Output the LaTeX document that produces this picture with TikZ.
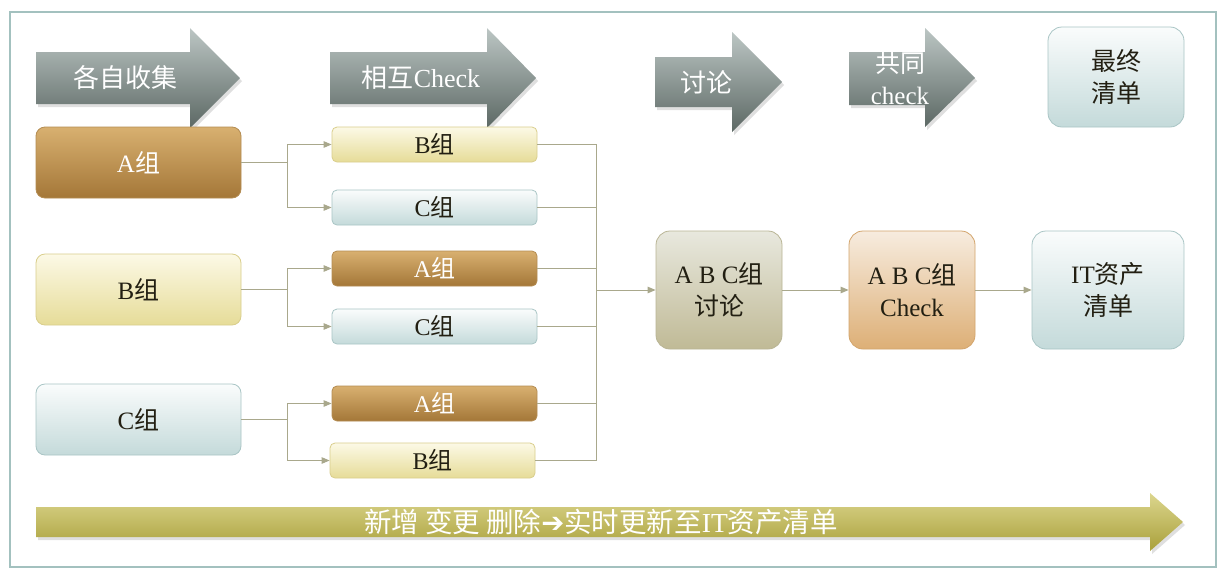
\documentclass[tikz,border=0pt]{standalone}
\usepackage{fontspec}
\setmainfont{Liberation Serif}
\newfontfamily\cjk{Noto Sans CJK SC}
\newfontfamily\symf{DejaVu Sans}
\usetikzlibrary{arrows.meta,shadows}
\newcommand\zh[1]{{\cjk #1}}
\definecolor{frameC}{HTML}{A3C1BF}
\definecolor{lineC}{HTML}{A9A88C}
\definecolor{brT}{HTML}{D8B070}
\definecolor{brB}{HTML}{A47738}
\definecolor{brD}{HTML}{B48C52}
\definecolor{yeT}{HTML}{FCF9E6}
\definecolor{yeB}{HTML}{E6DC98}
\definecolor{yeD}{HTML}{D9CE8C}
\definecolor{blT}{HTML}{FAFCFC}
\definecolor{blB}{HTML}{C4DADA}
\definecolor{blD}{HTML}{A9C5C5}
\definecolor{gdT}{HTML}{E8E8DE}
\definecolor{gdB}{HTML}{C0BA96}
\definecolor{gdD}{HTML}{B9B595}
\definecolor{orT}{HTML}{F7ECDF}
\definecolor{orB}{HTML}{DDAF76}
\definecolor{orD}{HTML}{D3A56C}
\definecolor{grT}{HTML}{BCC6C4}
\definecolor{grB}{HTML}{5C6864}
\definecolor{olT}{HTML}{DCD68E}
\definecolor{olB}{HTML}{A9A03A}
\definecolor{txt}{HTML}{221F12}
\tikzset{
  conn/.style={draw=lineC, line width=1pt},
  arr/.style={conn, -{Triangle[length=8pt,width=6.5pt]}},
  box/.style={draw, line width=0.8pt, align=center, text=txt, inner sep=2pt},
  bigbox/.style={box, rounded corners=9pt, minimum width=205pt, minimum height=71pt, font=\fontsize{25}{29}\selectfont},
  smallbox/.style={box, rounded corners=5pt, minimum width=205pt, minimum height=35pt, font=\fontsize{24}{28}\selectfont},
  tallbox/.style={box, rounded corners=14pt, minimum width=126pt, minimum height=118pt, font=\fontsize{25}{32}\selectfont},
  brownf/.style={top color=brT, bottom color=brB, draw=brD, text=white},
  yellowf/.style={top color=yeT, bottom color=yeB, draw=yeD},
  bluef/.style={top color=blT, bottom color=blB, draw=blD},
  greyarrow/.style={top color=grT, bottom color=grB, draw=none,
     drop shadow={shadow xshift=2pt, shadow yshift=-3pt, opacity=0.25}},
  arrowlabel/.style={text=white, font=\fontsize{26}{31}\selectfont, align=center, inner sep=0pt},
}
\begin{document}
\begin{tikzpicture}[x=1pt,y=-1pt]
\useasboundingbox (0,0) rectangle (1232,574);
\fill[white] (0,0) rectangle (1232,574);
\draw[frameC, line width=1.6pt] (10,12) rectangle (1216,567);

% header arrows
\path[greyarrow] (36,52) -- (190,52) -- (190,28) -- (240,78) -- (190,128) -- (190,104) -- (36,104) -- cycle;
\node[arrowlabel] (h1) at (125,78) {\zh{各自收集}};
\path[greyarrow] (330,52) -- (487,52) -- (487,28) -- (536,78) -- (487,128) -- (487,104) -- (330,104) -- cycle;
\node[arrowlabel] (h2) at (421,78) {\zh{相互}Check};
\path[greyarrow] (655,57) -- (732,57) -- (732,32) -- (782,82) -- (732,132) -- (732,107) -- (655,107) -- cycle;
\node[arrowlabel] (h3) at (706,82) {\zh{讨论}};
\path[greyarrow] (849,52) -- (925,52) -- (925,28) -- (975,78) -- (925,127) -- (925,105) -- (849,105) -- cycle;
\node[arrowlabel, font=\fontsize{25}{32}\selectfont] (h4) at (900,78) {\zh{共同}\\check};

\node[box, bluef, rounded corners=14pt, minimum width=136pt, minimum height=100pt, font=\fontsize{25}{32}\selectfont] (final) at (1116,77) {\zh{最终}\\\zh{清单}};

% left column
\node[bigbox, brownf] (A) at (138.5,162.5) {A\zh{组}};
\node[bigbox, yellowf] (B) at (138.5,289.5) {B\zh{组}};
\node[bigbox, bluef] (C) at (138.5,419.5) {C\zh{组}};

% middle column
\node[smallbox, yellowf] (AB) at (434.5,144.5) {B\zh{组}};
\node[smallbox, bluef] (AC) at (434.5,207.5) {C\zh{组}};
\node[smallbox, brownf] (BA) at (434.5,268.5) {A\zh{组}};
\node[smallbox, bluef] (BC) at (434.5,326.5) {C\zh{组}};
\node[smallbox, brownf] (CA) at (434.5,403.5) {A\zh{组}};
\node[smallbox, yellowf] (CB) at (432.5,460.5) {B\zh{组}};

% right side
\node[tallbox, top color=gdT, bottom color=gdB, draw=gdD] (D) at (719,290) {A B C\zh{组}\\\zh{讨论}};
\node[tallbox, top color=orT, bottom color=orB, draw=orD] (K) at (912,290) {A B C\zh{组}\\Check};
\node[tallbox, bluef, minimum width=152pt] (IT) at (1108,290) {IT\zh{资产}\\\zh{清单}};

% connectors left -> middle
\draw[arr] (A.east) -- (287,162.5) |- (AB.west);
\draw[arr] (A.east) -- (287,162.5) |- (AC.west);
\draw[arr] (B.east) -- (287,289.5) |- (BA.west);
\draw[arr] (B.east) -- (287,289.5) |- (BC.west);
\draw[arr] (C.east) -- (287,419.5) |- (CA.west);
\draw[arr] (C.east) -- (287,419.5) |- (CB.west);

% middle -> bus
\coordinate (bus) at (596,290);
\draw[conn] (AB.east) -| (bus);
\draw[conn] (AC.east) -| (bus);
\draw[conn] (BA.east) -| (bus);
\draw[conn] (BC.east) -| (bus);
\draw[conn] (CA.east) -| (bus);
\draw[conn] (CB.east) -| (bus);
\draw[arr] (bus) -- (D.west);
\draw[arr] (D.east) -- (K.west);
\draw[arr] (K.east) -- (IT.west);

% bottom arrow
\path[top color=olT, bottom color=olB, draw=none,
  drop shadow={shadow xshift=2pt, shadow yshift=-3pt, opacity=0.25}]
  (36,507) -- (1150,507) -- (1150,493) -- (1183,522) -- (1150,551) -- (1150,537) -- (36,537) -- cycle;
\node[arrowlabel, font=\fontsize{27.5}{30}\selectfont] (bot) at (601,522) {\zh{新增 变更 删除}{\symf ➔}\zh{实时更新至}IT\zh{资产清单}};
\end{tikzpicture}
\end{document}
